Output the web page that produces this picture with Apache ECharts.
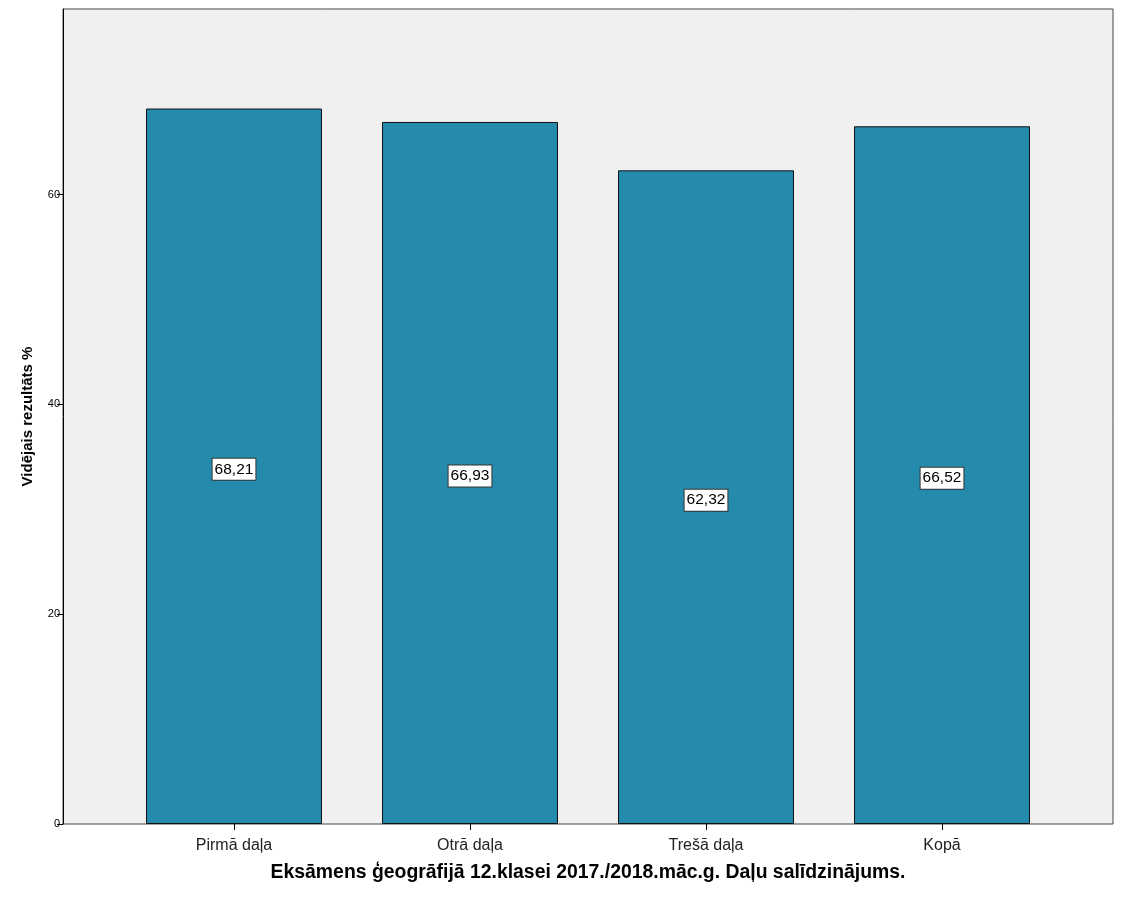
<!DOCTYPE html>
<html>
<head>
<meta charset="utf-8">
<script src="https://cdn.jsdelivr.net/npm/echarts@6/dist/echarts.min.js"></script>
<style>html,body{margin:0;padding:0;background:#fff}#c{width:1125px;height:900px}</style>
</head>
<body>
<div id="c"></div>
<script>
const categories = ['Pirmā daļa', 'Otrā daļa', 'Trešā daļa', 'Kopā'];
const values = [68.21, 66.93, 62.32, 66.52];
const xTitle = 'Eksāmens ģeogrāfijā 12.klasei 2017./2018.māc.g. Daļu salīdzinājums.';
const yTitle = 'Vidējais rezultāts %';
const yMin = 0, yMax = 77.7, yStep = 20;

const chart = echarts.init(document.getElementById('c'));
const font = 'Liberation Sans, Arial, sans-serif';
chart.setOption({
  animation: false,
  textStyle: { fontFamily: font },
  grid: [
    { left: 63, right: 12, top: 9, bottom: 76, show: true, backgroundColor: '#f0f0f0', borderColor: '#444', borderWidth: 1 },
    { left: 116, right: 65, top: 9, bottom: 76 }
  ],
  xAxis: [
    { gridIndex: 0, type: 'value', show: false, min: 0, max: 1 },
    {
      gridIndex: 1, type: 'category', data: categories,
      axisLine: { show: false },
      axisTick: { show: true, alignWithLabel: true, length: 6, lineStyle: { color: '#000' } },
      axisLabel: { fontSize: 16, color: '#222', margin: 14, fontFamily: font },
      name: xTitle, nameLocation: 'middle', nameGap: 39,
      nameTextStyle: { fontSize: 19.4, fontWeight: 'bold', color: '#000', fontFamily: font }
    }
  ],
  yAxis: [
    {
      gridIndex: 0, type: 'value', min: yMin, max: yMax, interval: yStep,
      axisLine: { show: true, lineStyle: { color: '#000' } },
      axisTick: { show: true, length: 6, lineStyle: { color: '#000' } },
      axisLabel: { fontSize: 11, color: '#000', margin: 3, showMaxLabel: false },
      splitLine: { show: false },
      name: yTitle, nameLocation: 'middle', nameGap: 28, nameRotate: 90,
      nameTextStyle: { fontSize: 15, fontWeight: 'bold', color: '#000', fontFamily: font }
    },
    { gridIndex: 1, type: 'value', min: yMin, max: yMax, show: false, splitLine: { show: false } }
  ],
  series: [{
    type: 'bar', xAxisIndex: 1, yAxisIndex: 1,
    data: values, barWidth: 176,
    itemStyle: { color: '#248bac', borderColor: '#111', borderWidth: 1 },
    label: {
      show: true, position: 'inside', offset: [0, 3],
      formatter: p => p.value.toFixed(2).replace('.', ','),
      backgroundColor: '#fff', borderColor: '#333', borderWidth: 1,
      padding: [3, 2, 2, 2], fontSize: 15.5, color: '#000', fontFamily: font
    }
  }]
});
</script>
</body>
</html>
